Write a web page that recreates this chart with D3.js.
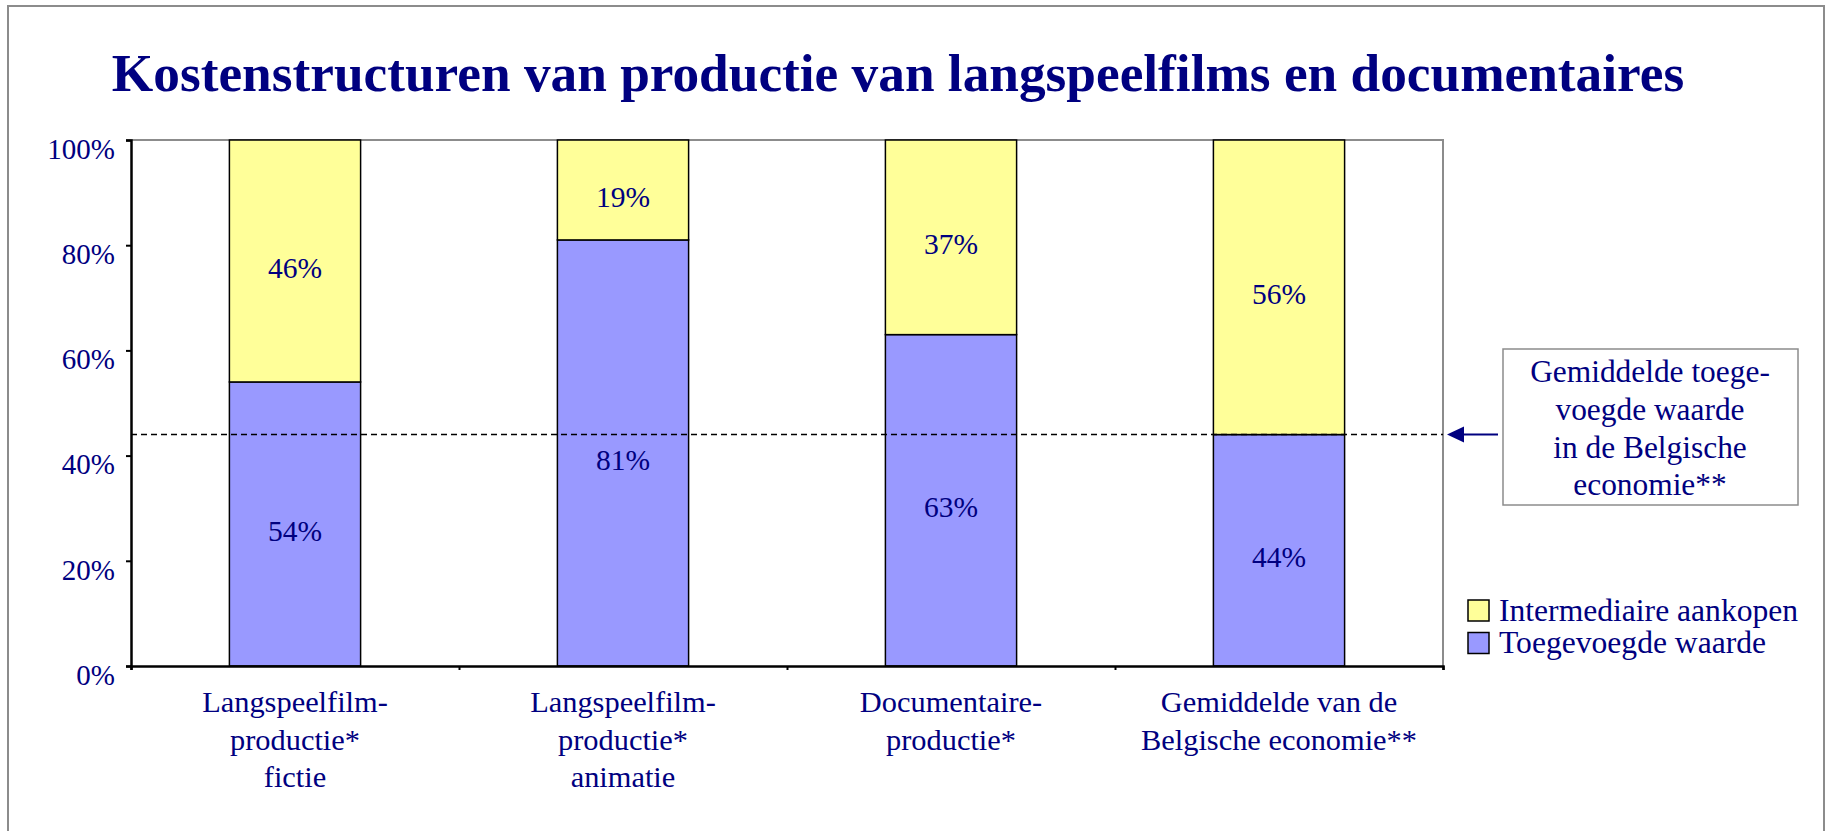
<!DOCTYPE html>
<html>
<head>
<meta charset="utf-8">
<script src="https://cdn.jsdelivr.net/npm/d3@7"></script>
<style>
  html, body { margin: 0; padding: 0; background: #fff; }
  svg { display: block; }
  text { font-family: "Liberation Serif", "Times New Roman", serif; fill: #000080; }
</style>
</head>
<body>
<svg id="chart" width="1829" height="831"></svg>
<script>
const title = "Kostenstructuren van productie van langspeelfilms en documentaires";
const categories = [
  "Langspeelfilm-\nproductie*\nfictie",
  "Langspeelfilm-\nproductie*\nanimatie",
  "Documentaire-\nproductie*",
  "Gemiddelde van de\nBelgische economie**"
];
const toegevoegdeWaarde = [54, 81, 63, 44];
const intermediaireAankopen = [46, 19, 37, 56];
const seriesNames = ["Intermediaire aankopen", "Toegevoegde waarde"];
const yTickValues = [0, 20, 40, 60, 80, 100];
const benchmarkValue = 44;
const annotationLines = ["Gemiddelde toege-", "voegde waarde", "in de Belgische", "economie**"];

const W = 1829, H = 831;
const svg = d3.select("#chart");
const navy = "#000080";
const yellow = "#FFFF99";
const blue = "#9999FF";

// outer frame
svg.append("rect").attr("x", 8).attr("y", 6).attr("width", 1816).attr("height", 840)
  .attr("fill", "none").attr("stroke", "#8c8c8c").attr("stroke-width", 2);

// title
svg.append("text").attr("x", 898).attr("y", 91).attr("text-anchor", "middle")
  .attr("font-size", 53.3).attr("font-weight", "bold").style("fill", navy).text(title);

const plot = { left: 131, right: 1443, top: 140, bottom: 666 };
const x = d3.scaleBand().domain(categories).range([plot.left, plot.right]).padding(0);
const y = d3.scaleLinear().domain([0, 100]).range([plot.bottom, plot.top]);
const barW = x.bandwidth() * 0.4;

// top & right border of plot area (gray)
svg.append("path")
  .attr("d", `M${plot.left},${plot.top}H${plot.right}V${plot.bottom}`)
  .attr("fill", "none").attr("stroke", "#8c8c8c").attr("stroke-width", 2);

// bars
const g = svg.append("g");
categories.forEach((c, i) => {
  const bx = x(c) + (x.bandwidth() - barW) / 2;
  const v1 = toegevoegdeWaarde[i], v2 = intermediaireAankopen[i];
  g.append("rect").attr("x", bx).attr("y", y(v1)).attr("width", barW).attr("height", y(0) - y(v1))
    .attr("fill", blue).attr("stroke", "#000").attr("stroke-width", 1.5);
  g.append("rect").attr("x", bx).attr("y", y(v1 + v2)).attr("width", barW).attr("height", y(v1) - y(v1 + v2))
    .attr("fill", yellow).attr("stroke", "#000").attr("stroke-width", 1.5);
  g.append("text").attr("x", bx + barW / 2).attr("y", (y(0) + y(v1)) / 2 + 7)
    .attr("text-anchor", "middle").attr("dominant-baseline", "central")
    .attr("font-size", 29.5).text(v1 + "%");
  g.append("text").attr("x", bx + barW / 2).attr("y", (y(v1) + y(v1 + v2)) / 2 + 7)
    .attr("text-anchor", "middle").attr("dominant-baseline", "central")
    .attr("font-size", 29.5).text(v2 + "%");
});

// benchmark dashed line
svg.append("line").attr("x1", plot.left).attr("x2", plot.right)
  .attr("y1", y(benchmarkValue)).attr("y2", y(benchmarkValue))
  .attr("stroke", "#000").attr("stroke-width", 1.5).attr("stroke-dasharray", "6,4");

// y axis
const yAxis = d3.axisLeft(y).tickValues(yTickValues).tickSize(5).tickFormat(d => d + "%");
const ya = svg.append("g").attr("transform", `translate(${plot.left},0)`).call(yAxis);
ya.select(".domain").attr("stroke", "#000").attr("stroke-width", 2.5);
ya.selectAll(".tick line").attr("stroke", "#000").attr("stroke-width", 2);
ya.selectAll(".tick text").attr("font-size", 29).attr("font-family", "Liberation Serif")
  .attr("x", -16).attr("dy", "0.32em").attr("transform", "translate(0,9)").style("fill", navy);

// x axis
const xa = svg.append("g").attr("transform", `translate(0,${plot.bottom})`);
const xb = d3.scaleLinear().domain([0, categories.length]).range([plot.left, plot.right]);
xa.call(d3.axisBottom(xb).ticks(categories.length).tickSize(4).tickFormat(""));
xa.select(".domain").attr("stroke", "#000").attr("stroke-width", 2.5);
xa.selectAll(".tick line").attr("stroke", "#000").attr("stroke-width", 2);

// category labels
categories.forEach(c => {
  const lines = c.split("\n");
  const t = svg.append("text").attr("text-anchor", "middle").attr("font-size", 30.4);
  lines.forEach((l, j) => {
    t.append("tspan").attr("x", x(c) + x.bandwidth() / 2).attr("y", 712 + j * 37.7).text(l);
  });
});

// annotation box
svg.append("rect").attr("x", 1503).attr("y", 349).attr("width", 295).attr("height", 156)
  .attr("fill", "#fff").attr("stroke", "#8c8c8c").attr("stroke-width", 1.5);
const at = svg.append("text").attr("text-anchor", "middle").attr("font-size", 31.4);
annotationLines.forEach((l, j) => {
  at.append("tspan").attr("x", 1650).attr("y", 382 + j * 37.8).text(l);
});

// arrow
const ay = y(benchmarkValue);
svg.append("line").attr("x1", 1498).attr("x2", 1460).attr("y1", ay).attr("y2", ay)
  .attr("stroke", navy).attr("stroke-width", 2);
svg.append("path").attr("d", `M1447,${ay}L1464,${ay - 8}L1464,${ay + 8}Z`).attr("fill", navy);

// legend
const legendColors = [yellow, blue];
seriesNames.forEach((n, i) => {
  const ly = 600 + i * 32.5;
  svg.append("rect").attr("x", 1468).attr("y", ly).attr("width", 21).attr("height", 21)
    .attr("fill", legendColors[i]).attr("stroke", "#000").attr("stroke-width", 1.5);
  svg.append("text").attr("x", 1499).attr("y", ly + 20.5).attr("font-size", 31.6).text(n);
});
</script>
</body>
</html>
